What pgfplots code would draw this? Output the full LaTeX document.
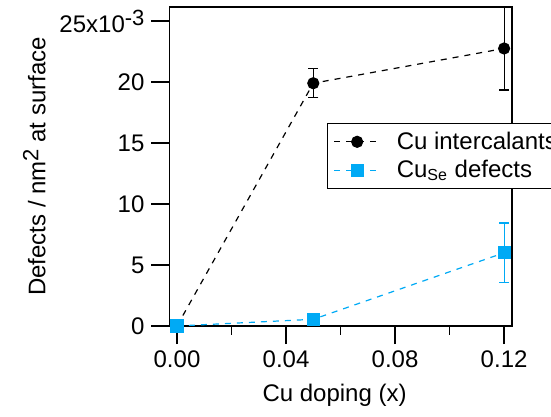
\documentclass[border=0pt]{standalone}
\usepackage{fontspec}
\setmainfont{Liberation Sans}
\usepackage{pgfplots}
\pgfplotsset{compat=1.18}
\definecolor{cuse}{RGB}{0,170,245}

\begin{document}
\begin{tikzpicture}[font=\fontsize{12}{14}\selectfont]
\begin{axis}[
  at={(84.75pt,45.5pt)}, anchor=south west,
  scale only axis, width=171.25pt, height=159.5pt,
  xmin=-0.00275, xmax=0.1229,
  ymin=0, ymax=26.15,
  xtick={0,0.04,0.08,0.12},
  xticklabels={0.00,0.04,0.08,0.12},
  minor xtick={0.02,0.06,0.10},
  ytick={0,5,10,15,20,25},
  yticklabels={0,5,10,15,20,{25x10\raisebox{0.55ex}{\fontsize{11}{12}\selectfont -3}}},
  tick align=outside, xtick pos=bottom, ytick pos=left,
  major tick length=9pt, minor tick length=4.5pt,
  axis line style={line width=0.75pt, black},
  tick style={line width=0.75pt, black},
  /pgf/number format/assume math mode=true,
  every axis y label/.style={at={(axis description cs:-0.395,0.5)}, rotate=90, anchor=center},
  every axis x label/.style={at={(axis description cs:0.482,-0.216)}, anchor=center},
  ylabel={Defects / nm\raisebox{0.55ex}{\fontsize{11}{12}\selectfont 2} at surface},
  xlabel={Cu doping (x)},
  clip=false,
  legend style={at={(rel axis cs:0.46,0.636)}, anchor=north west,
    draw=black, line width=0.5pt, inner xsep=3pt, inner ysep=2pt,
    font=\fontsize{12}{13.5}\selectfont,
    /tikz/every odd column/.append style={column sep=6pt}},
  legend cell align=left,
  legend image code/.code={\draw[mark repeat=2,mark phase=2,#1]
    plot coordinates {(0pt,0pt)(11.5pt,0pt)(23pt,0pt)};},
]

% Cu intercalants
\addplot[black, line width=0.6pt, dash pattern=on 3pt off 3pt,
  mark=*, mark size=2.75pt, mark options={solid},
  error bars/.cd, y dir=both, y explicit,
  error bar style={solid, line width=0.6pt},
  error mark options={rotate=90, mark size=2.5pt, line width=0.6pt}]
  coordinates {(0,0) +- (0,0) (0.05,19.9) +- (0,1.2) (0.12,22.75) +- (0,3.4)};
\addlegendentry{Cu intercalants}

% Cu_Se defects
\addplot[cuse, line width=0.6pt, dash pattern=on 3pt off 3pt,
  mark=square*, mark size=3pt, mark options={solid},
  error bars/.cd, y dir=both, y explicit,
  error bar style={solid, line width=0.6pt},
  error mark options={rotate=90, mark size=2.5pt, line width=0.6pt}]
  coordinates {(0,0) +- (0,0) (0.05,0.55) +- (0,0) (0.12,6.0) +- (0,2.45)};
\addlegendentry{Cu\textsubscript{Se} defects}

\end{axis}
\pgfresetboundingbox
\useasboundingbox (0,0) rectangle (275.5pt,208.5pt);
\end{tikzpicture}
\end{document}
